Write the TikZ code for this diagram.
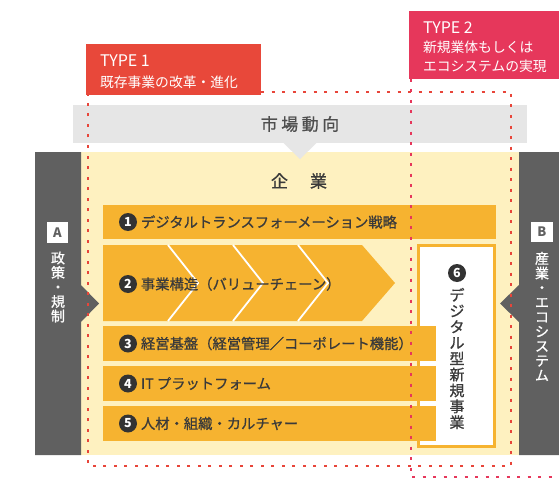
\documentclass[tikz,border=0pt]{standalone}
\usepackage{fontspec}
\setmainfont{Noto Sans CJK JP}[FakeBold=0.9]
\newfontfamily\typefont{Noto Sans CJK JP}
\definecolor{rowcol}{HTML}{F6B330}
\definecolor{bgyellow}{HTML}{FEF1C0}
\definecolor{panelgray}{HTML}{606060}
\definecolor{mktgray}{HTML}{E6E6E6}
\definecolor{darktxt}{HTML}{3A3A3A}
\definecolor{numcol}{HTML}{333333}
\definecolor{typeonecol}{HTML}{E8483A}
\definecolor{typetwocol}{HTML}{E6375B}
\definecolor{dotone}{HTML}{E8453A}
\definecolor{dottwo}{HTML}{E6375B}
\begin{document}
\begin{tikzpicture}[x=1pt,y=-1pt,
  txt/.style={text=darktxt, inner sep=0pt, outer sep=0pt},
  box/.style={inner sep=0pt, outer sep=0pt, draw=none, anchor=north west},
  rowbox/.style={box, fill=rowcol},
  num/.style={circle, fill=numcol, text=white, minimum size=18pt, inner sep=0pt, outer sep=0pt, font=\typefont\fontsize{12.5}{12.5}\selectfont\bfseries},
  rowtxt/.style={txt, anchor=west, font=\fontsize{14.3}{17}\selectfont},
  vtxt/.style={align=center, inner sep=0pt, outer sep=0pt},
  labbox/.style={box, fill=white, text=panelgray, font=\typefont\fontsize{13}{13}\selectfont\bfseries},
  typetxt/.style={text=white, inner sep=0pt, outer sep=0pt, anchor=west, align=left, font=\typefont\fontsize{13.8}{18.5}\selectfont},
  dotsone/.style={draw=dotone, line width=2.8pt, dash pattern=on 3pt off 7.5pt},
  dotstwo/.style={draw=dottwo, line width=2.8pt, dash pattern=on 3pt off 7.5pt},
]
\useasboundingbox (0,0) rectangle (559,484);
\fill[white] (0,0) rectangle (559,484);

% market trend bar
\node[box, fill=mktgray, minimum width=454pt, minimum height=38pt] (market) at (73,105) {};
\node[txt, font=\fontsize{17}{17}\selectfont, text=darktxt!90] (markettxt) at (300,124) {市\hspace{3.5pt}場\hspace{3.5pt}動\hspace{3.5pt}向};

% company background
\node[box, fill=bgyellow, minimum width=438pt, minimum height=303pt] (company) at (81,152) {};
\fill[mktgray] (283,142.5) -- (317,142.5) -- (300,159) -- cycle;
\node[txt, font=\fontsize{17}{17}\selectfont] (companytxt) at (299,181) {企\hspace{22pt}業};

% side panels
\fill[panelgray] (35,152) -- (81,152) -- (81,285) -- (99,303.5) -- (81,322) -- (81,455) -- (35,455) -- cycle;
\fill[panelgray] (559,152) -- (519,152) -- (519,285) -- (500,303.5) -- (519,322) -- (519,455) -- (559,455) -- cycle;
\node[labbox, minimum width=21pt, minimum height=21pt] (labA) at (47,222) {A};
\node[labbox, minimum width=22pt, minimum height=20pt] (labB) at (531,222) {B};
\node[vtxt, text=white, font=\fontsize{14}{14.5}\selectfont] (atxt) at (58,287) {政\\策\\・\\規\\制};
\node[vtxt, text=white, font=\fontsize{14}{14.6}\selectfont] (btxt) at (542,316.5) {産\\業\\・\\エ\\コ\\シ\\ス\\テ\\ム};

% row 1
\node[rowbox, minimum width=393pt, minimum height=34pt] (row1) at (103,205) {};
\node[num] (n1) at (128,222) {1};
\node[rowtxt] (t1) at (141,222) {デジタルトランスフォーメーション戦略};

% row 2 (value chain arrow)
\fill[rowcol] (103,245) -- (362,245) -- (395,283) -- (362,321) -- (103,321) -- cycle;
\foreach \cx in {168,233,298} {
  \draw[white, line width=1.8pt] (\cx,245) -- (\cx+30,283) -- (\cx,321);
}
\node[num] (n2) at (128,284) {2};
\node[rowtxt] (t2) at (141,284) {事業構造（バリューチェーン）};

% box 6
\node[box, fill=white, draw=rowcol, line width=3pt, minimum width=76pt, minimum height=201pt] (box6) at (418.5,245.5) {};
\node[num] (n6) at (457,273) {6};
\node[vtxt, text=darktxt, font=\fontsize{15}{15.9}\selectfont] (t6) at (457,358.5) {デ\\ジ\\タ\\ル\\型\\新\\規\\事\\業};

% rows 3-5
\node[rowbox, minimum width=333pt, minimum height=35pt] (row3) at (103,326) {};
\node[rowbox, minimum width=333pt, minimum height=35pt] (row4) at (103,366) {};
\node[rowbox, minimum width=333pt, minimum height=35pt] (row5) at (103,406) {};
\node[num] (n3) at (128,343.5) {3};
\node[rowtxt] (t3) at (141,343.5) {経営基盤（経営管理／コーポレート機能）};
\node[num] (n4) at (128,383.5) {4};
\node[rowtxt] (t4) at (141,383.5) {IT プラットフォーム};
\node[num] (n5) at (128,423.5) {5};
\node[rowtxt] (t5) at (141,423.5) {人材・組織・カルチャー};

% type boxes
\node[box, fill=typeonecol, minimum width=175pt, minimum height=51pt] (type1) at (86,44) {};
\node[typetxt] (type1txt) at (100,71.5) {{\fontsize{16}{18.5}\selectfont TYPE 1}\\[2pt]既存事業の改革・進化};
\node[box, fill=typetwocol, minimum width=150pt, minimum height=68pt] (type2) at (409,11) {};
\node[typetxt] (type2txt) at (423,47) {{\fontsize{16}{18.5}\selectfont TYPE 2}\\[1pt]新規業体もしくは\\エコシステムの実現};

% dotted frames
\draw[dotsone] (type1.south east |- 0,92) -- (511,92) -- (511,466) -- (88,466) -- (88,95);
\draw[dotstwo] (411,79) -- (411,477) -- (559,477);
\end{tikzpicture}
\end{document}
